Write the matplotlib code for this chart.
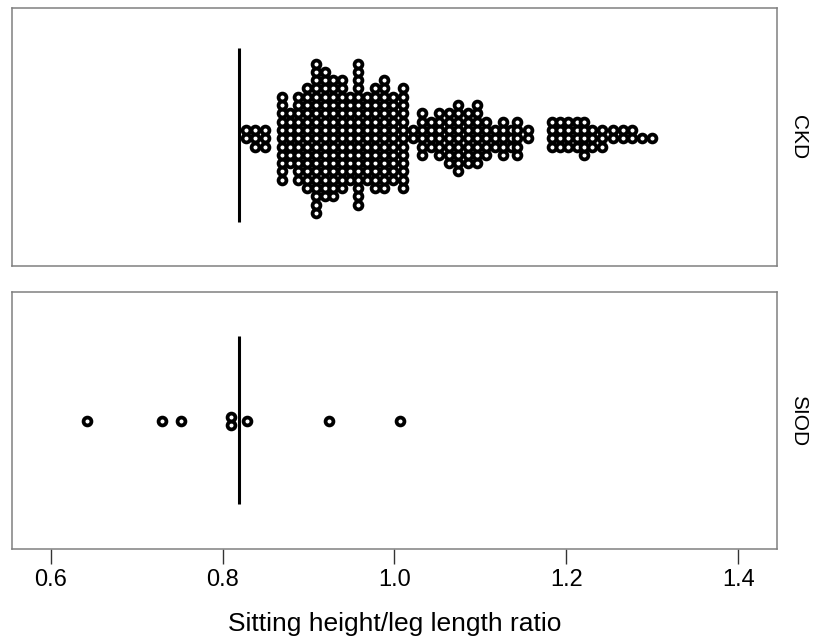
import matplotlib
matplotlib.use("Agg")
import matplotlib.pyplot as plt
import numpy as np

plt.rcParams['font.family'] = ['Liberation Sans', 'DejaVu Sans']

# ---------------- data ----------------
panels = ["CKD", "SIOD"]

# CKD: dot-plot columns (bin position, number of dots)
ckd_x = [0.827, 0.838, 0.849,
         0.869, 0.878, 0.888, 0.898, 0.909, 0.919, 0.929, 0.939, 0.948, 0.958,
         0.968, 0.977, 0.988, 0.998, 1.010, 1.021, 1.032, 1.042, 1.052, 1.063,
         1.074, 1.086, 1.096, 1.107, 1.117, 1.126, 1.135, 1.143, 1.155,
         1.183, 1.193, 1.202, 1.212, 1.221, 1.230, 1.242, 1.254, 1.266, 1.276,
         1.288, 1.300]
ckd_n = [2, 3, 3,
         11, 7, 11, 13, 19, 16, 15, 14, 11, 18,
         11, 13, 14, 11, 13, 2, 6, 4, 6, 7,
         9, 7, 8, 5, 3, 5, 3, 5, 2,
         4, 4, 4, 4, 5, 3, 3, 2, 2, 2,
         1, 1]

# SIOD
siod_x = [0.642, 0.730, 0.752, 0.810, 0.828, 0.924, 1.006]
siod_n = [1, 1, 1, 2, 1, 1, 1]

ref_value = 0.819
xticks = [0.6, 0.8, 1.0, 1.2, 1.4]
xticklabels = ["0.6", "0.8", "1.0", "1.2", "1.4"]
xlabel = "Sitting height/leg length ratio"

# ---------------- figure ----------------
W, H = 820, 638
fig = plt.figure(figsize=(W / 100, H / 100), dpi=100)

left = 12.3 / W
width = (776.7 - 12.3) / W
ax_ckd = fig.add_axes([left, (H - 266) / H, width, 258 / H])
ax_siod = fig.add_axes([left, (H - 549.3) / H, width, 257.3 / H])

xlim = (0.5553, 1.4447)


def stack(xs, ns, whole=True):
    px, py = [], []
    for x, n in zip(xs, ns):
        a = np.arange(1, n + 1)
        if whole:
            offs = a - 1 - np.floor((n - 1) / 2)
        else:
            offs = a - 1 - (n - 1) / 2
        px.extend([x] * n)
        py.extend(list(offs))
    return np.array(px), np.array(py)


for ax, xs, ns, name, ylim, whole, seg in [
    (ax_ckd, ckd_x, ckd_n, panels[0], (-15.4, 15.7), True, (-10.1, 10.9)),
    (ax_siod, siod_x, siod_n, panels[1], (-15.5, 15.5), False, (-10.1, 10.2)),
]:
    px, py = stack(xs, ns, whole)
    ax.plot([ref_value, ref_value], list(seg), color="black", lw=2.2,
            solid_capstyle="butt", zorder=1)
    ax.scatter(px, py, s=32, facecolor="white", edgecolor="black",
               linewidths=2.7, zorder=3)
    ax.set_xlim(*xlim)
    ax.set_ylim(*ylim)
    ax.set_yticks([])
    for sp in ax.spines.values():
        sp.set_color("#808080")
        sp.set_linewidth(1.1)
    ax.text(1.016, 0.5, name, transform=ax.transAxes, rotation=-90,
            ha="left", va="center", fontsize=15, color="black")

ax_ckd.set_xticks([])
ax_siod.set_xticks(xticks)
ax_siod.set_xticklabels(xticklabels, fontsize=17)
ax_siod.tick_params(axis="x", length=11, width=1.0, color="#333333", pad=3)
ax_siod.set_xlabel(xlabel, fontsize=19, labelpad=15)

fig.savefig("out.png", dpi=100)
